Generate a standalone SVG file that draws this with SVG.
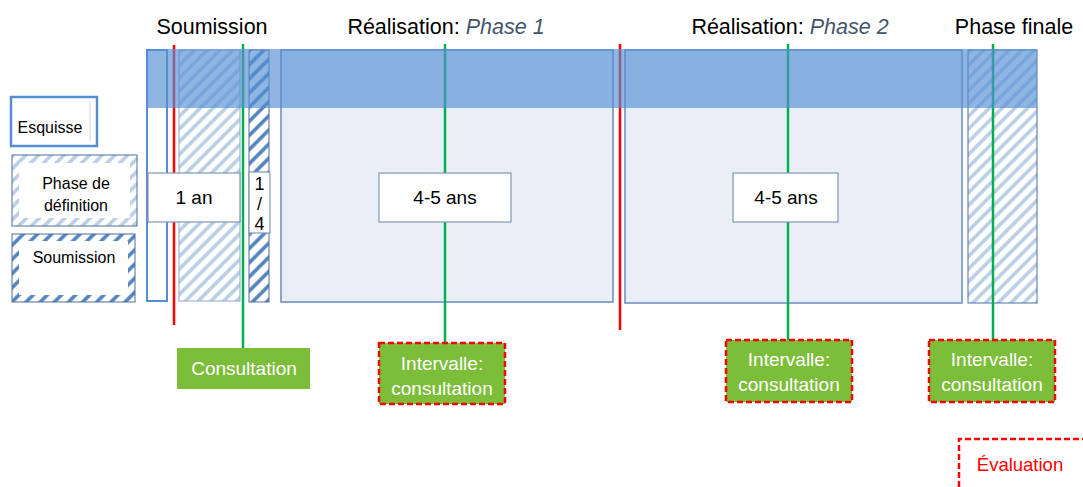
<svg xmlns="http://www.w3.org/2000/svg" width="1083" height="487" viewBox="0 0 1083 487">
<defs>
<pattern id="hLight" patternUnits="userSpaceOnUse" width="9" height="9" patternTransform="rotate(45)">
<rect width="9" height="9" fill="#ffffff"/>
<line x1="2" y1="0" x2="2" y2="9" stroke="#B9CDE5" stroke-width="3.5"/>
</pattern>
<pattern id="hDark" patternUnits="userSpaceOnUse" width="10" height="10" patternTransform="rotate(45)">
<rect width="10" height="10" fill="#ffffff"/>
<line x1="2" y1="0" x2="2" y2="10" stroke="#4F81BD" stroke-width="3.5"/>
</pattern>
<style>
text{font-family:"Liberation Sans",Arial,sans-serif;fill:#000}
.hdr{font-size:21.5px}
.it{font-style:italic;fill:#44546A}
.lg{font-size:16px}
.dur{font-size:19px}
.box{fill:#fff;stroke:#7F96B8;stroke-width:1.2}
.ph{fill:#EAEFF7;stroke:#6A8BBF;stroke-width:1.5}
.g{stroke:#00B050;stroke-width:2.5;fill:none}
.r{stroke:#FF0000;stroke-width:2.5;fill:none}
.grn{fill:#7CBE3A}
.dash{fill:none;stroke:#FF0000;stroke-width:2.5;stroke-dasharray:6,3}
.wt{fill:#fff;font-size:19px}
</style>
</defs>

<g id="headers">
<text class="hdr" x="212" y="34" text-anchor="middle">Soumission</text>
<text class="hdr" x="446" y="34" text-anchor="middle">Réalisation: <tspan class="it">Phase 1</tspan></text>
<text class="hdr" x="790" y="34" text-anchor="middle">Réalisation: <tspan class="it">Phase 2</tspan></text>
<text class="hdr" x="1014" y="34" text-anchor="middle">Phase finale</text>
</g>

<g id="legend-esquisse">
<rect x="11" y="97" width="86" height="49" fill="#fff" stroke="#558ED5" stroke-width="2.5"/>
<line x1="90" y1="102" x2="90" y2="141" stroke="#D0D0D0" stroke-width="1"/>
<text class="lg" x="50" y="133" text-anchor="middle">Esquisse</text>
</g>
<g id="legend-definition">
<rect x="12" y="155" width="125" height="71" fill="url(#hLight)" stroke="#4F6E9F" stroke-width="1"/>
<rect x="19" y="163" width="111" height="55" fill="#fff"/>
<text class="lg" x="76" y="189" text-anchor="middle">Phase de</text>
<text class="lg" x="76" y="211" text-anchor="middle">définition</text>
</g>
<g id="legend-soumission">
<rect x="12" y="234" width="123" height="68" fill="url(#hDark)" stroke="#4F6E9F" stroke-width="1"/>
<rect x="19" y="241" width="109" height="54" fill="#fff"/>
<text class="lg" x="74" y="263" text-anchor="middle">Soumission</text>
</g>

<g id="columns">
<rect id="col-esquisse" x="147" y="50" width="20" height="251" fill="#fff" stroke="#558ED5" stroke-width="2"/>
<rect id="col-definition" x="179" y="50" width="61" height="251" fill="url(#hLight)" stroke="#8EA9CF" stroke-width="1"/>
<rect id="col-soumission" x="249" y="50" width="20" height="252" fill="url(#hDark)" stroke="#4F6E9F" stroke-width="1"/>
<rect id="phase1" class="ph" x="281" y="50" width="332" height="252"/>
<rect id="phase2" class="ph" x="625" y="50" width="337" height="253"/>
<rect id="col-finale" x="968" y="50" width="69" height="253" fill="url(#hLight)" stroke="#4A6FA5" stroke-width="1"/>
</g>

<g id="connectors">
<line class="r" x1="174" y1="45" x2="174" y2="325"/>
<line class="r" x1="620" y1="44" x2="620" y2="330"/>
<line class="g" x1="243" y1="44" x2="243" y2="348"/>
<line class="g" x1="445" y1="44" x2="445" y2="343"/>
<line class="g" x1="788" y1="44" x2="788" y2="340"/>
<line class="g" x1="993" y1="44" x2="993" y2="340"/>
</g>

<g id="band">
<rect x="146" y="49" width="891" height="59" fill="#558ED5" fill-opacity="0.66"/>
</g>

<g id="dur-1an">
<rect class="box" x="148" y="173" width="92" height="49"/>
<text class="dur" x="194" y="204" text-anchor="middle">1 an</text>
</g>
<g id="dur-quarter">
<rect class="box" x="249" y="172" width="21" height="61"/>
<text x="259.5" y="190" text-anchor="middle" font-size="18">1</text>
<text x="259.5" y="210" text-anchor="middle" font-size="18">/</text>
<text x="259.5" y="230" text-anchor="middle" font-size="18">4</text>
</g>
<g id="dur-phase1">
<rect class="box" x="379" y="173" width="132" height="49"/>
<text class="dur" x="445" y="204" text-anchor="middle">4-5 ans</text>
</g>
<g id="dur-phase2">
<rect class="box" x="733" y="173" width="105" height="49"/>
<text class="dur" x="786" y="204" text-anchor="middle">4-5 ans</text>
</g>

<g id="consultation">
<rect class="grn" x="177" y="348" width="133" height="41"/>
<text class="wt" x="244" y="375" text-anchor="middle">Consultation</text>
</g>
<g id="intervalle1">
<rect class="grn" x="379" y="343" width="126" height="61"/>
<rect class="dash" x="379" y="343" width="126" height="61"/>
<text class="wt" x="442" y="370" text-anchor="middle">Intervalle:</text>
<text class="wt" x="442" y="395" text-anchor="middle">consultation</text>
</g>
<g id="intervalle2">
<rect class="grn" x="726" y="340" width="126" height="62"/>
<rect class="dash" x="726" y="340" width="126" height="62"/>
<text class="wt" x="789" y="366" text-anchor="middle">Intervalle:</text>
<text class="wt" x="789" y="391" text-anchor="middle">consultation</text>
</g>
<g id="intervalle3">
<rect class="grn" x="929" y="340" width="126" height="62"/>
<rect class="dash" x="929" y="340" width="126" height="62"/>
<text class="wt" x="992" y="366" text-anchor="middle">Intervalle:</text>
<text class="wt" x="992" y="391" text-anchor="middle">consultation</text>
</g>
<g id="evaluation">
<path class="dash" d="M959 487 V439 H1083"/>
<text x="1020" y="471" text-anchor="middle" font-size="18.5" style="fill:#FF0000">Évaluation</text>
</g>
</svg>
